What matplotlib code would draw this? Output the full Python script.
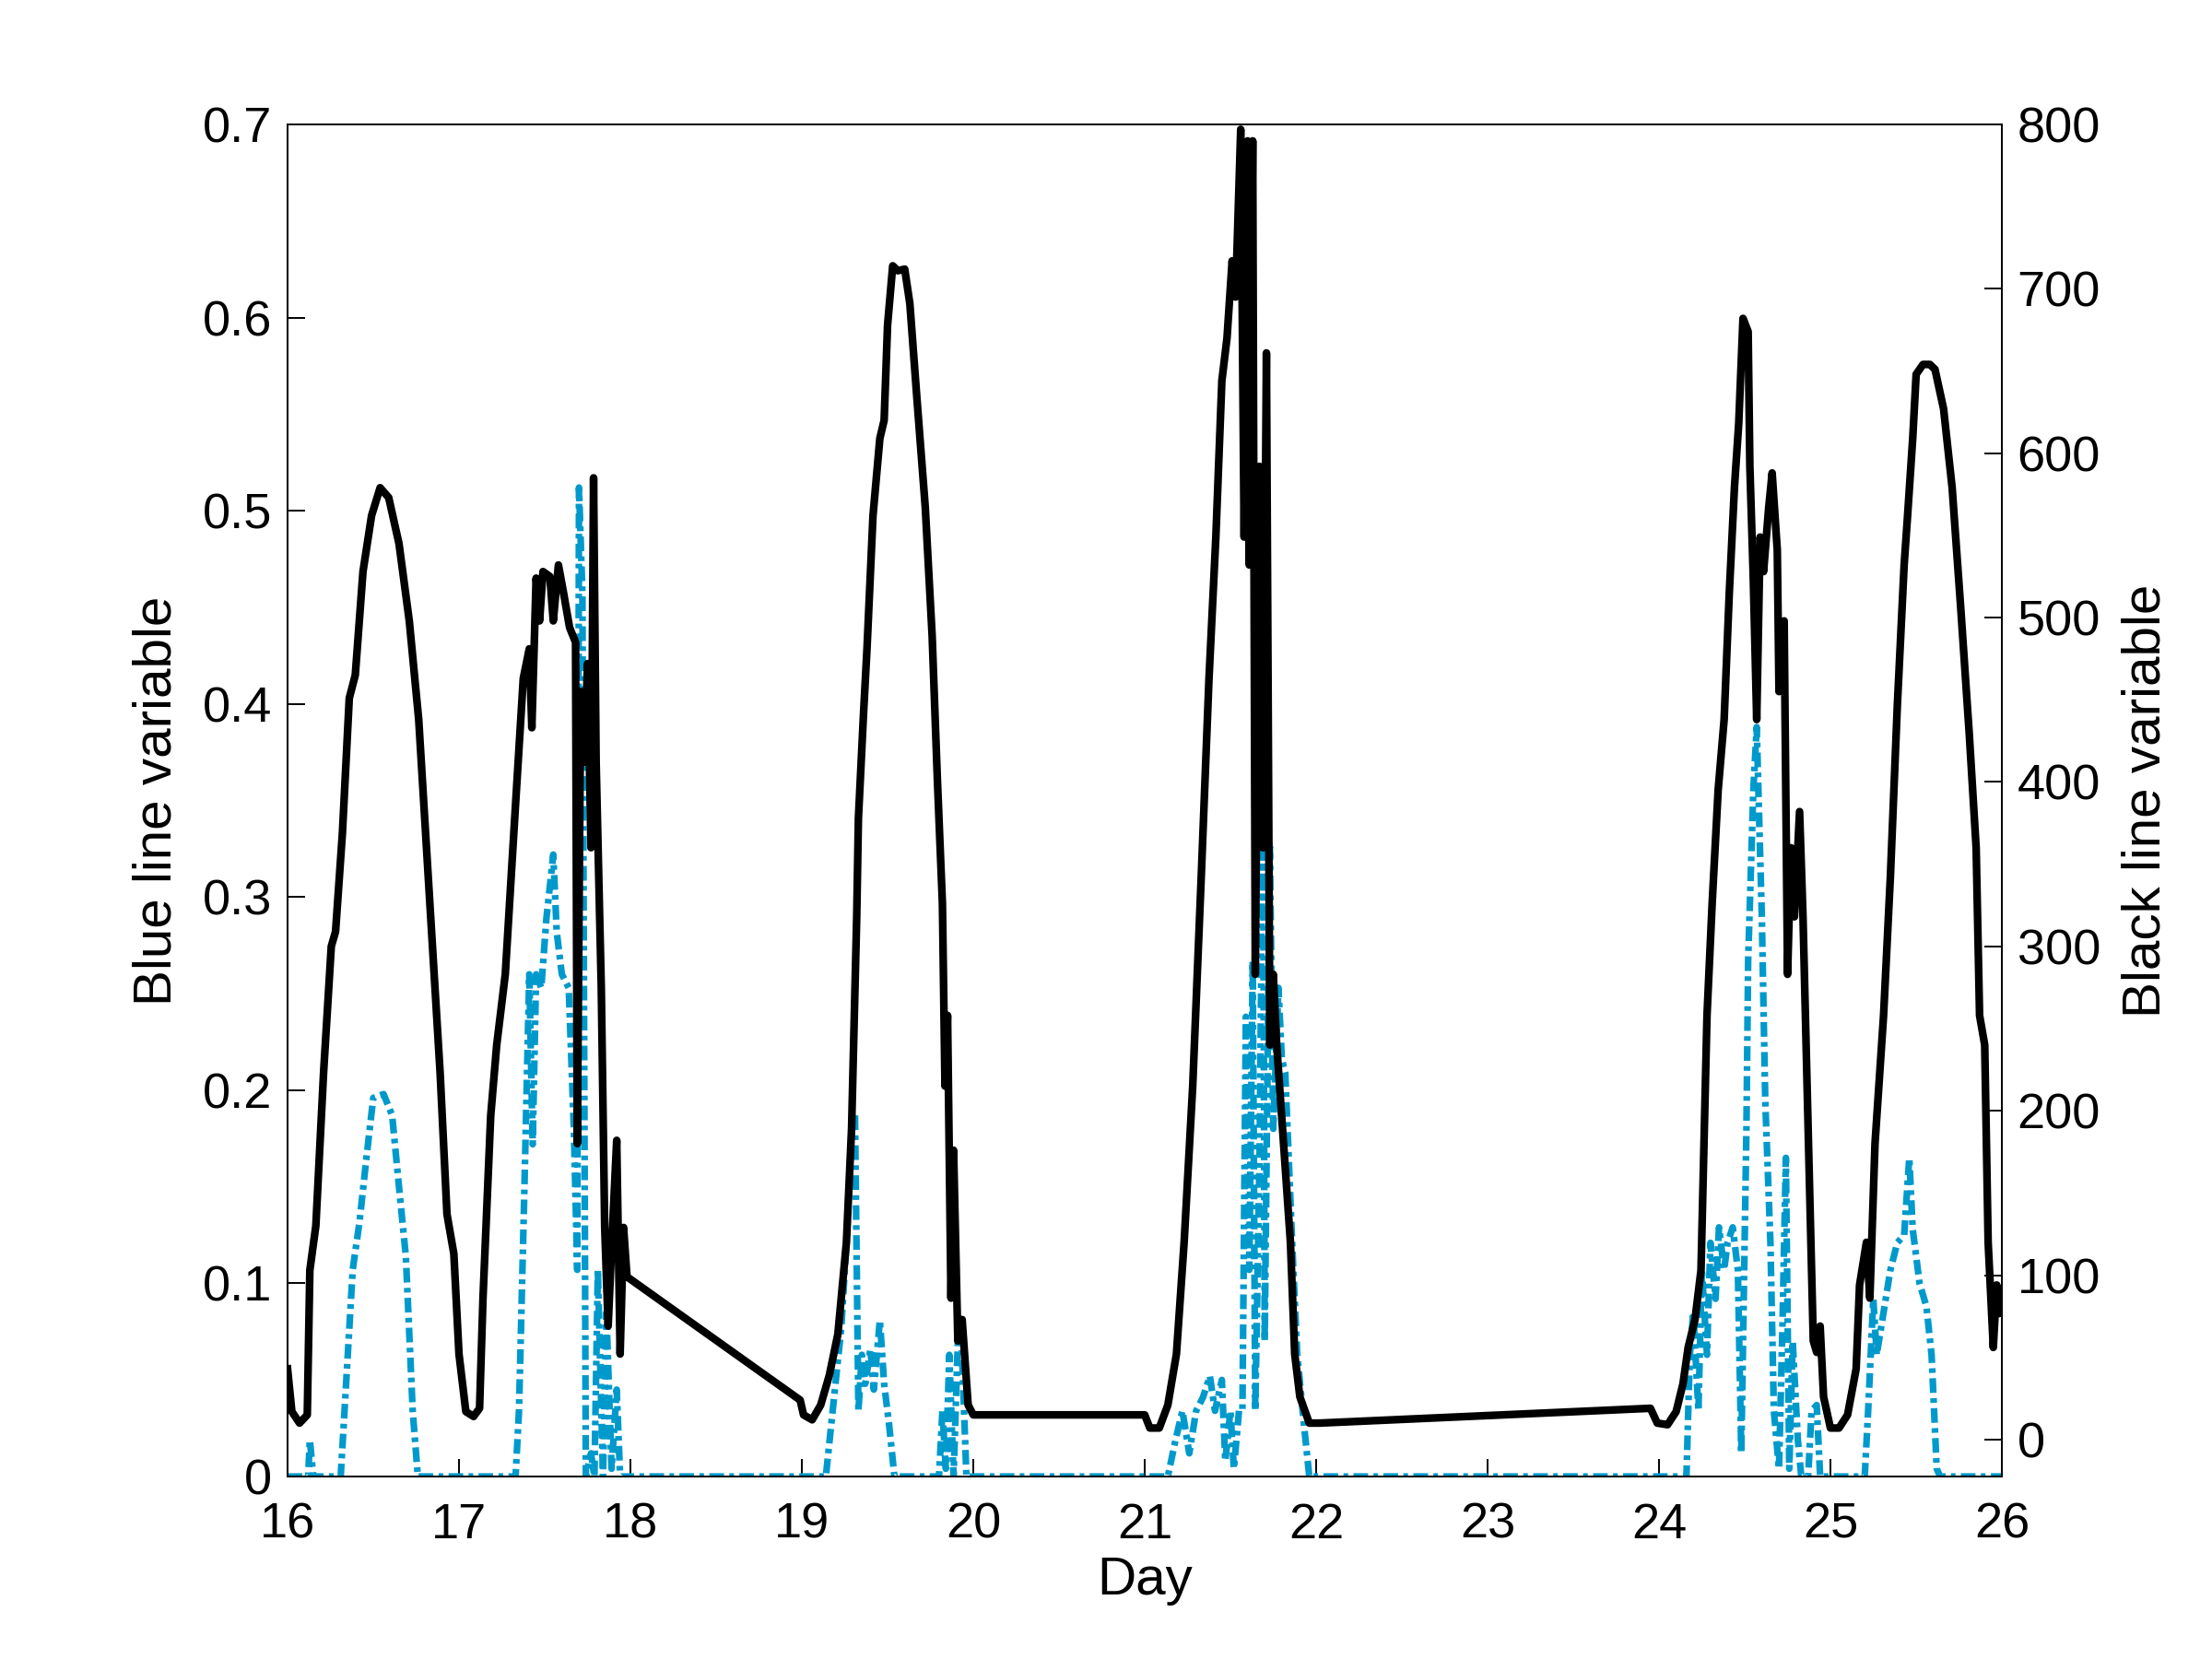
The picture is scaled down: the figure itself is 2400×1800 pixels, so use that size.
import matplotlib
matplotlib.use('Agg')
import matplotlib.pyplot as plt

# black line (right axis)
black_day = [16.00, 16.025, 16.07, 16.115, 16.13, 16.165, 16.21, 16.255, 16.28, 16.32,
             16.36, 16.395, 16.44, 16.49, 16.54, 16.59, 16.65, 16.71, 16.765, 16.83,
             16.89, 16.93, 16.97, 17.00, 17.04, 17.085, 17.12, 17.14, 17.185, 17.22,
             17.27, 17.325, 17.375, 17.41, 17.425, 17.45, 17.47, 17.49, 17.53, 17.55,
             17.58, 17.61, 17.645, 17.68, 17.69, 17.71, 17.73, 17.75, 17.77, 17.785,
             17.80, 17.83, 17.85, 17.87, 17.89, 17.92, 17.94, 17.96, 17.98,
             18.99, 19.01, 19.06, 19.11, 19.16, 19.21, 19.26, 19.29, 19.32, 19.33,
             19.36, 19.38, 19.415, 19.455, 19.48, 19.50, 19.53, 19.56, 19.60, 19.63,
             19.67, 19.72, 19.76, 19.79, 19.82, 19.835, 19.85, 19.87, 19.885, 19.91,
             19.935, 19.97, 20.00,
             21.00, 21.03, 21.085, 21.135, 21.185, 21.23, 21.28, 21.33, 21.375, 21.415,
             21.45, 21.48, 21.51, 21.53, 21.56, 21.58, 21.60, 21.61, 21.63, 21.645,
             21.67, 21.69, 21.71, 21.73, 21.75, 21.77, 21.81, 21.85, 21.875, 21.905,
             21.96, 22.02,
             23.95, 23.99, 24.05, 24.10, 24.14, 24.17, 24.21, 24.245, 24.28, 24.31,
             24.345, 24.38, 24.41, 24.44, 24.465, 24.49, 24.52, 24.53, 24.55, 24.57,
             24.59, 24.61, 24.64, 24.66, 24.69, 24.70, 24.73, 24.75, 24.77, 24.79,
             24.82, 24.84, 24.87, 24.90, 24.92, 24.94, 24.96, 25.00, 25.05, 25.10,
             25.15, 25.17, 25.21, 25.23, 25.26, 25.31, 25.35, 25.39, 25.43, 25.45,
             25.48, 25.50, 25.54, 25.58, 25.61, 25.66, 25.71, 25.76, 25.81, 25.85,
             25.87, 25.90, 25.92, 25.95, 25.97, 26.00]
black_val = [43, 17, 10, 15, 103, 130, 223, 300, 309, 369,
             451, 465, 528, 562, 579, 573, 545, 498, 438, 326,
             223, 137, 113, 52, 17, 14, 19, 86, 197, 240,
             283, 378, 463, 481, 433, 524, 498, 528, 525, 498,
             532, 515, 494, 485, 180, 455, 412, 472, 360, 585,
             412, 275, 129, 69, 116, 182, 52, 129, 99,
             24, 15, 12, 21, 39, 64, 120, 189, 318, 378,
             442, 481, 562, 609, 620, 678, 714, 711, 712, 691,
             635, 567, 489, 403, 326, 215, 258, 86, 176, 60,
             73, 21, 15,
             15, 7, 7, 21, 52, 120, 215, 343, 463, 549,
             644, 670, 717, 695, 797, 549, 790, 532, 790, 283,
             592, 360, 661, 240, 283, 240, 180, 120, 52, 26,
             10, 10,
             19, 10, 9, 17, 34, 56, 73, 103, 258, 326,
             395, 438, 515, 579, 618, 682, 674, 592, 524, 438,
             549, 528, 567, 588, 541, 455, 498, 283, 360, 318,
             382, 318, 189, 60, 53, 69, 26, 7, 7, 15,
             43, 94, 120, 86, 180, 258, 343, 446, 532, 562,
             609, 648, 654, 654, 651, 627, 579, 506, 429, 360,
             258, 240, 120, 56, 94, 77]

# blue line (left axis)
blue_day = [16.00, 16.12, 16.13, 16.15, 16.31, 16.38, 16.42, 16.46, 16.50, 16.56,
            16.61, 16.65, 16.69, 16.73, 16.76,
            17.33, 17.35, 17.38, 17.41, 17.43, 17.45, 17.48, 17.51, 17.55, 17.57,
            17.60, 17.64, 17.67, 17.69, 17.70, 17.72, 17.74, 17.77, 17.79, 17.81,
            17.84, 17.86, 17.89, 17.92, 17.94,
            19.14, 19.18, 19.23, 19.26, 19.29, 19.31, 19.33, 19.35, 19.37, 19.40,
            19.42, 19.455, 19.48, 19.51, 19.54,
            19.80, 19.82, 19.84, 19.86, 19.885, 19.91, 19.93, 19.96,
            21.135, 21.18, 21.22, 21.26, 21.30, 21.34, 21.38, 21.41, 21.45, 21.47,
            21.50, 21.52, 21.55, 21.57, 21.59, 21.61, 21.63, 21.645, 21.67, 21.69,
            21.70, 21.73, 21.75, 21.78, 21.80, 21.82, 21.86, 21.89, 21.93, 21.96,
            24.16, 24.18, 24.20, 24.23, 24.25, 24.28, 24.30, 24.33, 24.35, 24.38,
            24.40, 24.43, 24.46, 24.48, 24.51, 24.52, 24.55, 24.57, 24.60, 24.62,
            24.65, 24.67, 24.70, 24.72, 24.74, 24.76, 24.78, 24.81, 24.83,
            24.87, 24.89, 24.92, 24.94,
            25.20, 25.22, 25.25, 25.27, 25.31, 25.35, 25.39, 25.43, 25.46, 25.48,
            25.52, 25.56, 25.59, 25.62, 25.64, 26.00]
blue_val = [0, 0, 0.019, 0, 0, 0.107, 0.132, 0.165, 0.196, 0.198,
            0.187, 0.150, 0.114, 0.034, 0,
            0, 0.034, 0.143, 0.260, 0.172, 0.260, 0.253, 0.289, 0.322, 0.282,
            0.260, 0.253, 0.180, 0.107, 0.512, 0.457, 0, 0.012, 0, 0.107,
            0, 0.085, 0.004, 0.045, 0,
            0, 0.034, 0.077, 0.121, 0.180, 0.187, 0.034, 0.063, 0.048, 0.066,
            0.045, 0.081, 0.048, 0.026, 0,
            0, 0.034, 0.004, 0.063, 0, 0.070, 0.074, 0,
            0, 0.019, 0.034, 0.012, 0.034, 0.041, 0.052, 0.034, 0.050, 0.008,
            0.034, 0.004, 0.034, 0.034, 0.238, 0.107, 0.267, 0.034, 0.165, 0.362,
            0.070, 0.326, 0.180, 0.253, 0.216, 0.209, 0.121, 0.063, 0.026, 0,
            0, 0.063, 0.085, 0.034, 0.107, 0.063, 0.121, 0.092, 0.129, 0.107,
            0.121, 0.129, 0.107, 0.012, 0.180, 0.267, 0.355, 0.388, 0.289, 0.194,
            0.121, 0.034, 0.004, 0.077, 0.165, 0.004, 0.070, 0.019, 0,
            0, 0.034, 0.037, 0,
            0, 0.034, 0.092, 0.063, 0.085, 0.107, 0.121, 0.125, 0.165, 0.128,
            0.100, 0.088, 0.063, 0.004, 0, 0]

plt.rcParams['font.family'] = ['Liberation Sans', 'DejaVu Sans']
plt.rcParams['font.size'] = 19.5

fig = plt.figure(figsize=(12, 9), dpi=200)
ax = fig.add_axes([0.13, 0.11, 0.775, 0.815])
ax.plot(blue_day, blue_val, color='#0099CC', linewidth=2.6,
        linestyle=(0, (2.2, 0.8, 0.7, 0.8)))
ax.set_xlim(16, 26)
ax.set_ylim(0, 0.7)
ax.set_xticks(range(16, 27))
ax.set_yticks([0, 0.1, 0.2, 0.3, 0.4, 0.5, 0.6, 0.7])
ax.set_yticklabels(['0', '0.1', '0.2', '0.3', '0.4', '0.5', '0.6', '0.7'])
ax.set_xlabel('Day', fontsize=21, labelpad=3)
ax.set_ylabel('Blue line variable', fontsize=21, labelpad=8)
ax.tick_params(direction='in', length=7, width=0.7)
ax.tick_params(axis='y', pad=6)
ax.tick_params(axis='x', pad=10)
for s in ax.spines.values():
    s.set_linewidth(0.7)

ax2 = ax.twinx()
ax2.plot(black_day, black_val, color='black', linewidth=3.0)
ax2.set_ylim(-22.5, 800)
ax2.set_yticks(range(0, 801, 100))
ax2.set_ylabel('Black line variable', fontsize=21, labelpad=8)
ax2.tick_params(direction='in', length=7, width=0.7, pad=6)
for s in ax2.spines.values():
    s.set_linewidth(0.7)

fig.savefig('out.png', dpi=200)
